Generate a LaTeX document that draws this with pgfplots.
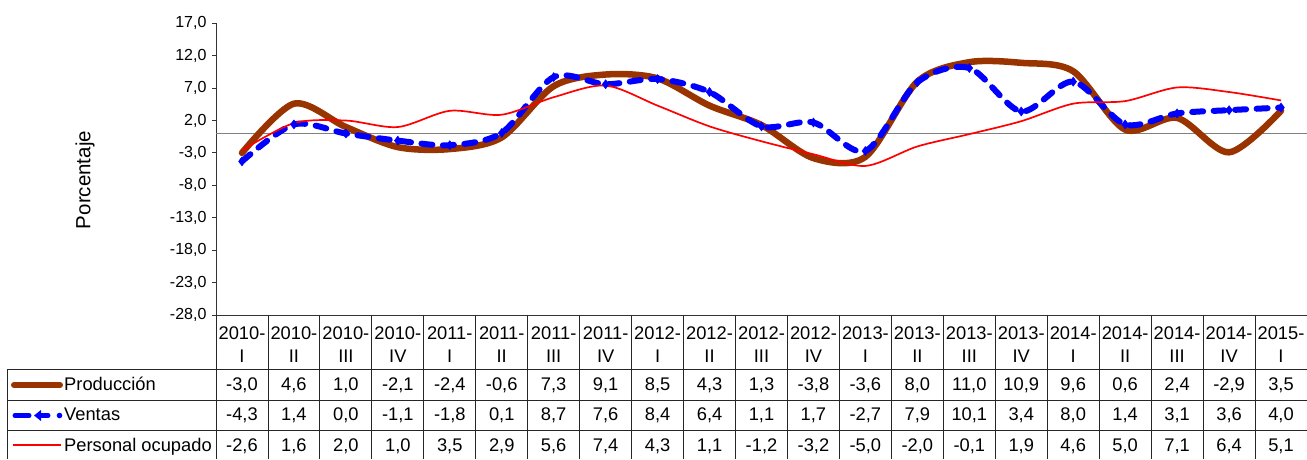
\documentclass[border=0pt]{standalone}
\usepackage{fontspec}
\setmainfont{Liberation Sans}
\usepackage{pgfplots}
\pgfplotsset{compat=1.18}
\usepackage{pgfplotstable}
\definecolor{prodc}{RGB}{153,51,0}
\definecolor{ventc}{RGB}{0,0,255}
\definecolor{persc}{RGB}{255,0,0}

\pgfplotstableread{
x  prod  ventas  pers  yr    q
0  -3.0  -4.3   -2.6  2010  I
1   4.6   1.4    1.6  2010  II
2   1.0   0.0    2.0  2010  III
3  -2.1  -1.1    1.0  2010  IV
4  -2.4  -1.8    3.5  2011  I
5  -0.6   0.1    2.9  2011  II
6   7.3   8.7    5.6  2011  III
7   9.1   7.6    7.4  2011  IV
8   8.5   8.4    4.3  2012  I
9   4.3   6.4    1.1  2012  II
10  1.3   1.1   -1.2  2012  III
11 -3.8   1.7   -3.2  2012  IV
12 -3.6  -2.7   -5.0  2013  I
13  8.0   7.9   -2.0  2013  II
14 11.0  10.1   -0.1  2013  III
15 10.9   3.4    1.9  2013  IV
16  9.6   8.0    4.6  2014  I
17  0.6   1.4    5.0  2014  II
18  2.4   3.1    7.1  2014  III
19 -2.9   3.6    6.4  2014  IV
20  3.5   4.0    5.1  2015  I
}\datatable

\begin{document}
\begin{tikzpicture}[x=1pt,y=1pt]
\useasboundingbox (0,0) rectangle (1307,459);
\begin{axis}[
  at={(216pt,144pt)}, anchor=south west,
  scale only axis, width=1091pt, height=291.7pt,
  xmin=-0.5, xmax=20.5, ymin=-28, ymax=17,
  ytick={-28,-23,-18,-13,-8,-3,2,7,12,17},
  xtick=\empty,
  axis x line=bottom, axis y line=left,
  axis line style={-, black!80, line width=0.9pt},
  tick align=outside, major tick length=4pt,
  ytick style={black!80, line width=0.9pt},
  yticklabel style={font=\fontsize{16}{19}\selectfont, xshift=-2pt},
  /pgf/number format/.cd, fixed, fixed zerofill, precision=1, use comma, assume math mode=true,
  clip=false,
]
\addplot[gray, line width=1.3pt] coordinates {(-0.5,0) (20.5,0)};
\addplot[prodc, line width=6.5pt, smooth, line cap=round, line join=round] table[x=x,y=prod]{\datatable};
\addplot[ventc, line width=6pt, smooth, dash pattern=on 11pt off 10.5pt, line cap=round,
  mark=diamond*, mark size=4.5pt, mark options={solid, line width=0.5pt}] table[x=x,y=ventas]{\datatable};
\addplot[persc, line width=1.7pt, smooth] table[x=x,y=pers]{\datatable};
\end{axis}

% y label
\node[rotate=90, font=\fontsize{20.5}{24}\selectfont] at (85,279) {Porcentaje};

% table grid
\begin{scope}[black!85, line width=0.9pt]
\foreach \k in {0,...,21} {
  \pgfmathsetmacro\xx{216+51.952*\k}
  \draw (\xx,144) -- (\xx,0);
}
\draw (7,90) -- (1307,90);
\draw (7,59) -- (1307,59);
\draw (7,29) -- (1307,29);
\draw (7,90) -- (7,0);
\end{scope}

% table contents
\pgfkeys{/pgf/number format/.cd, fixed, fixed zerofill, precision=1, use comma, assume math mode=true}
\begin{scope}[font=\fontsize{18.3}{22}\selectfont]
\foreach \i in {0,...,20} {
  \pgfmathsetmacro\xx{216+51.952*(\i+0.5)}
  \pgfplotstablegetelem{\i}{yr}\of\datatable \let\yr\pgfplotsretval
  \node[anchor=base] at (\xx,120) {\yr-};
  \pgfplotstablegetelem{\i}{q}\of\datatable \let\qq\pgfplotsretval
  \node[anchor=base] at (\xx,97) {\qq};
  \pgfplotstablegetelem{\i}{prod}\of\datatable
  \node[anchor=base] at (\xx,68.5) {\pgfmathprintnumber{\pgfplotsretval}};
  \pgfplotstablegetelem{\i}{ventas}\of\datatable
  \node[anchor=base] at (\xx,38.5) {\pgfmathprintnumber{\pgfplotsretval}};
  \pgfplotstablegetelem{\i}{pers}\of\datatable
  \node[anchor=base] at (\xx,8) {\pgfmathprintnumber{\pgfplotsretval}};
}
\node[anchor=base west, inner sep=0pt] at (64,68.5) {Producción};
\node[anchor=base west, inner sep=0pt] at (64,38.5) {Ventas};
\node[anchor=base west, inner sep=0pt] at (64,8) {Personal ocupado};
\end{scope}

% legend samples
\draw[prodc, line width=6pt, line cap=round] (14,74) -- (60,74);
\draw[ventc, line width=5pt, line cap=round] (15,43.5) -- (29,43.5);
\draw[ventc, line width=5pt, line cap=round] (40,43.5) -- (48,43.5);
\fill[ventc] (34,43.5) -- (41,49) -- (41,38) -- cycle;
\fill[ventc] (59.5,43.5) circle (2.8);
\draw[persc, line width=1.6pt] (13,14) -- (61,14);
\end{tikzpicture}
\end{document}
